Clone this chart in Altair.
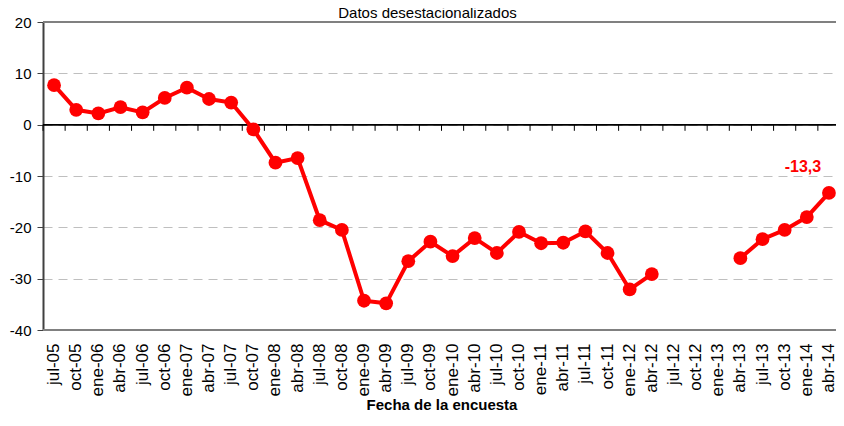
import altair as alt
import pandas as pd

categories = ["jul-05", "oct-05", "ene-06", "abr-06", "jul-06", "oct-06", "ene-07", "abr-07",
              "jul-07", "oct-07", "ene-08", "abr-08", "jul-08", "oct-08", "ene-09", "abr-09",
              "jul-09", "oct-09", "ene-10", "abr-10", "jul-10", "oct-10", "ene-11", "abr-11",
              "jul-11", "oct-11", "ene-12", "abr-12", "jul-12", "oct-12", "ene-13", "abr-13",
              "jul-13", "oct-13", "ene-14", "abr-14"]
values = [7.7, 2.9, 2.2, 3.4, 2.4, 5.2, 7.2, 5.0,
          4.3, -0.9, -7.4, -6.5, -18.6, -20.5, -34.3, -34.8,
          -26.6, -22.8, -25.6, -22.1, -25.0, -20.9, -23.1, -23.0,
          -20.8, -25.0, -32.1, -29.1, None, None, None, -26.0,
          -22.3, -20.5, -18.0, -13.3]
last_label = ["-13,3"]
y_ticks = [-40, -30, -20, -10, 0, 10, 20]
frame_lines = [20, -40]

RED = "#FF0000"
FONT = "Liberation Sans"

df = pd.DataFrame({"fecha": categories, "valor": values})
df_last = pd.DataFrame({"fecha": [categories[-1]], "valor": [values[-1]], "etiqueta": last_label})
df_ticks = pd.DataFrame({"fecha": categories, "y0": [0.0] * len(categories),
                         "y1": [-1.2] * len(categories)})
df_frame = pd.DataFrame({"valor": frame_lines})

x_scale = alt.Scale(type="band", domain=categories, paddingInner=0, paddingOuter=0)
y_scale = alt.Scale(domain=[-40, 20], nice=False, zero=False)

x_axis = alt.Axis(labelAngle=270, domain=False, ticks=False, grid=False,
                  labelFontSize=17, labelColor="#000000", labelPadding=13,
                  labelFont=FONT, labelOverlap=False,
                  title="Fecha de la encuesta", titleFont=FONT, titleFontSize=15,
                  titleFontWeight="bold", titleColor="#000000", titlePadding=2)
y_axis = alt.Axis(values=y_ticks, title=None, domainColor="#404040", domainWidth=2,
                  tickColor="#404040", tickSize=6, labelFontSize=15, labelColor="#000000",
                  labelFont=FONT, labelPadding=6, grid=True, gridColor="#bfbfbf",
                  gridDash=[9, 6], gridWidth=1, labelExpr="'' + datum.value")


def xenc(band=0.5):
    return alt.X("fecha:N", scale=x_scale, axis=x_axis, sort=categories, bandPosition=band)


def yenc(field="valor"):
    return alt.Y(f"{field}:Q", scale=y_scale, axis=y_axis)


frame = alt.Chart(df_frame).mark_rule(color="#808080", strokeWidth=2).encode(y=yenc())
zero = alt.Chart(df_frame).mark_rule(color="#000000", strokeWidth=1.5).encode(y=alt.datum(0))
ticks = alt.Chart(df_ticks).mark_rule(color="#000000", strokeWidth=1).encode(
    x=xenc(0), y=yenc("y0"), y2="y1:Q")
line = alt.Chart(df).mark_line(color=RED, strokeWidth=4,
                               invalid="break-paths-show-domains").encode(x=xenc(), y=yenc())
points = alt.Chart(df).mark_circle(color=RED, size=190, opacity=1).encode(x=xenc(), y=yenc())
label = alt.Chart(df_last).mark_text(color=RED, font=FONT, fontSize=16, fontWeight="bold",
                                     dx=-26, dy=-26).encode(x=xenc(), y=yenc(), text="etiqueta:N")

chart = alt.layer(frame, zero, ticks, line, points, label).properties(
    width=797, height=308,
    title=alt.TitleParams("Datos desestacionalizados", font=FONT, fontSize=15,
                          fontWeight="normal", color="#000000", offset=3, dx=-14, dy=9),
    autosize=alt.AutoSizeParams(type="none"),
    padding={"left": 35, "top": 14, "right": -4, "bottom": 84},
).configure_view(stroke=None).configure(background="white")

chart.save("out.html", embed_options={"renderer": "svg", "actions": False})
